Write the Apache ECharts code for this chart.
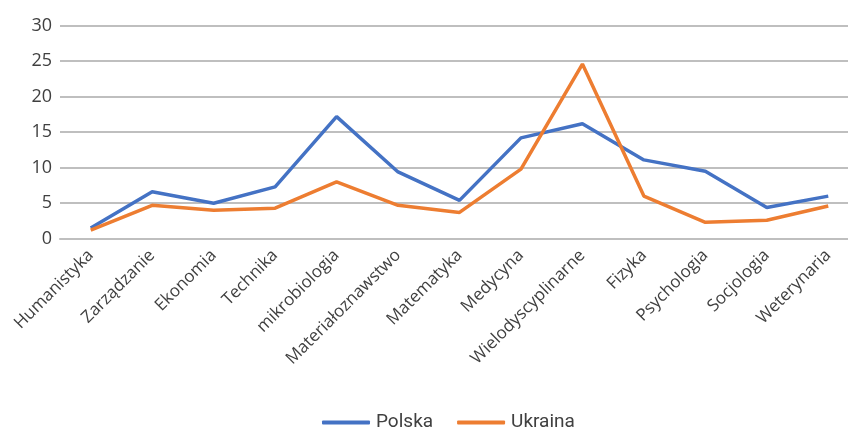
<!DOCTYPE html>
<html>
<head>
<meta charset="utf-8">
<script src="https://cdn.jsdelivr.net/npm/echarts@6/dist/echarts.min.js"></script>
<style>
html,body{margin:0;padding:0;background:#fff;}
#chart{width:848px;height:428px;}
</style>
</head>
<body>
<div id="chart"></div>
<script>
const categories = ['Humanistyka','Zarządzanie','Ekonomia','Technika','mikrobiologia','Materiałoznawstwo','Matematyka','Medycyna','Wielodyscyplinarne','Fizyka','Psychologia','Socjologia','Weterynaria'];
const polska = [1.5, 6.6, 5.0, 7.3, 17.2, 9.4, 5.4, 14.2, 16.2, 11.1, 9.5, 4.4, 6.0];
const ukraina = [1.2, 4.7, 4.0, 4.3, 8.0, 4.7, 3.7, 9.8, 24.6, 6.0, 2.3, 2.6, 4.6];
const yTicks = {min: 0, max: 30, interval: 5};

const chart = echarts.init(document.getElementById('chart'), null, {renderer: 'canvas'});
chart.setOption({
  animation: false,
  backgroundColor: '#ffffff',
  textStyle: {fontFamily: 'Open Sans', color: '#404040'},
  grid: {left: 60, width: 799, top: 25.7, bottom: 189.3, containLabel: false, outerBoundsMode: 'none'},
  legend: {
    data: ['Polska', 'Ukraina'],
    top: 408,
    left: 317,
    icon: 'roundRect',
    itemWidth: 48,
    itemHeight: 4,
    itemGap: 24,
    textStyle: {fontSize: 19, color: '#404040', fontFamily: 'Roboto', padding: [0,0,0,1]}
  },
  xAxis: {
    type: 'category',
    data: categories,
    boundaryGap: true,
    axisLine: {show: true, lineStyle: {color: '#bfbfbf', width: 2}},
    axisTick: {show: false},
    axisLabel: {rotate: 45, fontSize: 17, color: '#404040', margin: 14, interval: 0, fontFamily: 'Open Sans'}
  },
  yAxis: {
    type: 'value',
    min: yTicks.min, max: yTicks.max, interval: yTicks.interval,
    axisLine: {show: false},
    axisTick: {show: false},
    axisLabel: {fontSize: 18, color: '#404040', margin: 8, fontFamily: 'Open Sans'},
    splitLine: {lineStyle: {color: '#bfbfbf', width: 2}}
  },
  series: [
    {name: 'Polska', type: 'line', data: polska, symbol: 'none', lineStyle: {color: '#4472C4', width: 3.5}, itemStyle: {color: '#4472C4'}},
    {name: 'Ukraina', type: 'line', data: ukraina, symbol: 'none', lineStyle: {color: '#ED7D31', width: 3.5}, itemStyle: {color: '#ED7D31'}}
  ]
});
</script>
</body>
</html>
